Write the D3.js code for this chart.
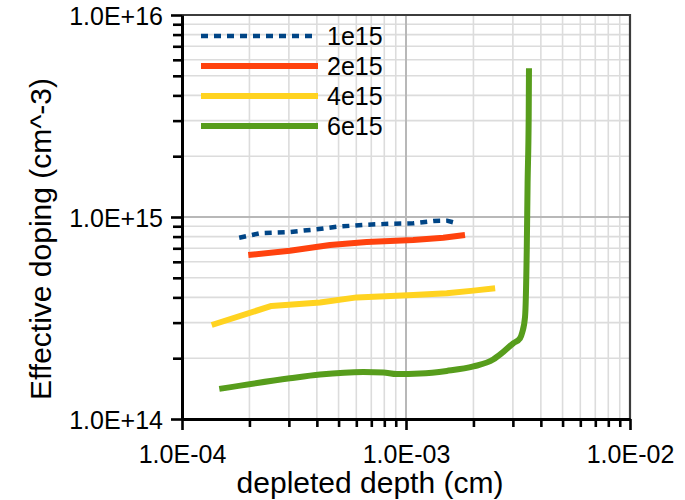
<!DOCTYPE html>
<html>
<head>
<meta charset="utf-8">
<script src="https://cdn.jsdelivr.net/npm/d3@7"></script>
<style>
  html, body { margin: 0; padding: 0; background: #fff; }
  svg { display: block; font-family: "Liberation Sans", Arial, sans-serif; }
</style>
</head>
<body>
<svg id="chart" width="685" height="500"></svg>
<script>
// Series labels and colours
const seriesNames = ["1e15", "2e15", "4e15", "6e15"];
const seriesColors = ["#004586", "#ff420e", "#ffd320", "#579d1c"];

// Depleted depth (cm) and effective doping (cm^-3) for each series
const depth1e15 = [1.80e-4, 2.23e-4, 2.93e-4, 3.99e-4, 4.90e-4, 6.68e-4, 8.78e-4, 1.078e-3, 1.324e-3, 1.52e-3, 1.684e-3];
const dop1e15   = [7.90e14, 8.31e14, 8.40e14, 8.69e14, 8.95e14, 9.16e14, 9.27e14, 9.31e14, 9.55e14, 9.59e14, 9.31e14];

const depth2e15 = [1.977e-4, 3.03e-4, 4.58e-4, 6.68e-4, 1.078e-3, 1.467e-3, 1.834e-3];
const dop2e15   = [6.48e14, 6.81e14, 7.27e14, 7.52e14, 7.69e14, 7.90e14, 8.15e14];

const depth4e15 = [1.357e-4, 2.51e-4, 4.13e-4, 6.03e-4, 1.078e-3, 1.52e-3, 2.0e-3, 2.50e-3];
const dop4e15   = [2.92e14, 3.63e14, 3.77e14, 4.00e14, 4.11e14, 4.19e14, 4.32e14, 4.44e14];

const depth6e15 = [1.467e-4, 3.03e-4, 4.13e-4, 6.45e-4, 7.92e-4, 9.09e-4, 1.155e-3, 1.52e-3, 2.0e-3, 2.45e-3, 2.72e-3, 3.01e-3, 3.23e-3, 3.30e-3, 3.40e-3, 3.46e-3, 3.49e-3, 3.53e-3, 3.54e-3];
const dop6e15   = [1.41e14, 1.59e14, 1.66e14, 1.71e14, 1.70e14, 1.67e14, 1.68e14, 1.73e14, 1.82e14, 1.97e14, 2.15e14, 2.37e14, 2.51e14, 2.67e14, 3.21e14, 6.87e14, 1.47e15, 3.14e15, 5.45e15];

// Axis domains and labelled ticks
const xDomain = [1e-4, 1e-2];
const yDomain = [1e14, 1e16];
const xMajorTicks = [1e-4, 1e-3, 1e-2];
const yMajorTicks = [1e14, 1e15, 1e16];
const xTitle = "depleted depth (cm)";
const yTitle = "Effective doping (cm^-3)";

const seriesDepth = [depth1e15, depth2e15, depth4e15, depth6e15];
const seriesDop = [dop1e15, dop2e15, dop4e15, dop6e15];

const svg = d3.select("#chart");
const plotL = 182, plotR = 630, plotT = 15, plotB = 419;

const x = d3.scaleLog().domain(xDomain).range([plotL, plotR]);
const y = d3.scaleLog().domain(yDomain).range([plotB, plotT]);

// Minor ticks: 2..9 within each decade
function minorTicks(domain) {
  const out = [];
  const lo = Math.round(Math.log10(domain[0])), hi = Math.round(Math.log10(domain[1]));
  for (let e = lo; e < hi; e++) {
    for (let m = 2; m <= 9; m++) out.push(m * Math.pow(10, e));
  }
  return out;
}
const xMinor = minorTicks(xDomain);
const yMinor = minorTicks(yDomain);

// Scientific label like 1.0E+16
function sci(v) {
  const e = Math.round(Math.log10(v));
  const m = v / Math.pow(10, e);
  const sign = e < 0 ? "-" : "+";
  return m.toFixed(1) + "E" + sign + String(Math.abs(e)).padStart(2, "0");
}

// Grid lines
const grid = svg.append("g");
grid.selectAll("line.xminor").data(xMinor).join("line").attr("class", "xminor")
  .attr("x1", d => x(d)).attr("x2", d => x(d)).attr("y1", plotT).attr("y2", plotB)
  .attr("stroke", "#dcdcdc").attr("stroke-width", 1.6);
grid.selectAll("line.yminor").data(yMinor).join("line").attr("class", "yminor")
  .attr("x1", plotL).attr("x2", plotR).attr("y1", d => y(d)).attr("y2", d => y(d))
  .attr("stroke", "#dcdcdc").attr("stroke-width", 1.6);
grid.selectAll("line.xmajor").data(xMajorTicks).join("line").attr("class", "xmajor")
  .attr("x1", d => x(d)).attr("x2", d => x(d)).attr("y1", plotT).attr("y2", plotB)
  .attr("stroke", "#b8b8b8").attr("stroke-width", 2);
grid.selectAll("line.ymajor").data(yMajorTicks).join("line").attr("class", "ymajor")
  .attr("x1", plotL).attr("x2", plotR).attr("y1", d => y(d)).attr("y2", d => y(d))
  .attr("stroke", "#b8b8b8").attr("stroke-width", 2);

// Plot frame on top and right
svg.append("path")
  .attr("d", `M${plotL},${plotT}H${plotR}V${plotB}`)
  .attr("fill", "none").attr("stroke", "#3c3c3c").attr("stroke-width", 2.2);

// Series lines: straight segments, the 6e15 curve smoothed through its knee
const lineStraight = d3.line().x(d => x(d[0])).y(d => y(d[1]));
const lineSmooth = d3.line().curve(d3.curveMonotoneX).x(d => x(d[0])).y(d => y(d[1]));
seriesNames.forEach((name, i) => {
  const pts = d3.zip(seriesDepth[i], seriesDop[i]);
  const p = svg.append("path").datum(pts)
    .attr("d", i === 3 ? lineSmooth : lineStraight)
    .attr("fill", "none")
    .attr("stroke", seriesColors[i])
    .attr("stroke-linejoin", "round");
  if (i === 0) {
    p.attr("stroke-width", 4.5).attr("stroke-dasharray", "7,6");
  } else {
    p.attr("stroke-width", 6);
  }
});

// Axes
function styleAxis(g) {
  g.selectAll("path.domain").attr("stroke", "#000").attr("stroke-width", 3);
  g.selectAll(".tick line").attr("stroke", "#000").attr("stroke-width", 2.6);
  g.selectAll(".tick text").attr("fill", "#000").attr("font-size", 25)
    .attr("font-family", "Liberation Sans, Arial, sans-serif");
}

const yMinorAxis = svg.append("g").attr("transform", `translate(${plotL},0)`)
  .call(d3.axisLeft(y).tickValues(yMinor).tickSize(9).tickSizeOuter(0).tickFormat(""));
yMinorAxis.select("path.domain").remove();
styleAxis(yMinorAxis);

const xMinorAxis = svg.append("g").attr("transform", `translate(0,${plotB})`)
  .call(d3.axisBottom(x).tickValues(xMinor).tickSize(8).tickSizeOuter(0).tickFormat(""));
xMinorAxis.select("path.domain").remove();
styleAxis(xMinorAxis);

const yAxis = svg.append("g").attr("transform", `translate(${plotL},0)`)
  .call(d3.axisLeft(y).tickValues(yMajorTicks).tickSize(11).tickSizeOuter(0).tickPadding(8).tickFormat(sci));
styleAxis(yAxis);
yAxis.selectAll(".tick text").attr("dy", "0.36em");

const xAxis = svg.append("g").attr("transform", `translate(0,${plotB})`)
  .call(d3.axisBottom(x).tickValues(xMajorTicks).tickSize(11).tickSizeOuter(0).tickPadding(0).tickFormat(sci));
styleAxis(xAxis);
xAxis.selectAll(".tick text").attr("dy", null).attr("y", 44);

// Axis titles
svg.append("text")
  .attr("x", 370).attr("y", 493)
  .attr("text-anchor", "middle")
  .attr("font-size", 30)
  .text(xTitle);

svg.append("text")
  .attr("transform", "translate(51,239) rotate(-90)")
  .attr("text-anchor", "middle")
  .attr("font-size", 30)
  .text(yTitle);

// Legend
const legend = svg.append("g");
seriesNames.forEach((name, i) => {
  const ly = 36 + i * 30;
  const l = legend.append("line")
    .attr("x1", 201).attr("x2", 318).attr("y1", ly).attr("y2", ly)
    .attr("stroke", seriesColors[i]);
  if (i === 0) l.attr("stroke-width", 4.5).attr("stroke-dasharray", "7,6");
  else l.attr("stroke-width", 6);
  legend.append("text")
    .attr("x", 327).attr("y", ly).attr("dy", "0.36em")
    .attr("font-size", 25)
    .text(name);
});
</script>
</body>
</html>
